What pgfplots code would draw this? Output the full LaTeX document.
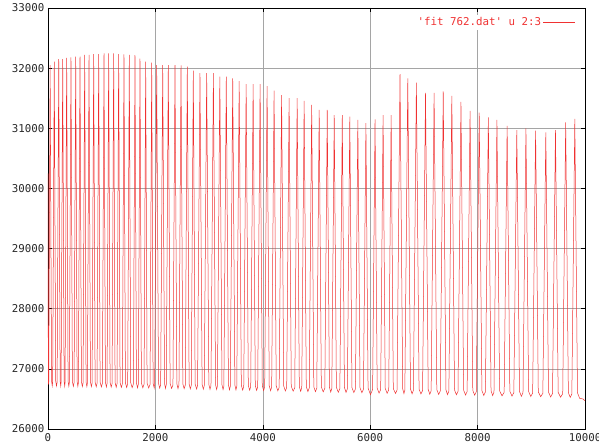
\documentclass[border=0pt]{standalone}
\usepackage{fontspec}
\setmonofont{DejaVu Sans Mono}
\usepackage{pgfplots}
\pgfplotsset{compat=1.18}
\definecolor{gpred}{RGB}{240,50,50}
\definecolor{gpgrid}{RGB}{165,165,165}
\definecolor{gptext}{RGB}{40,40,40}
\begin{document}
\begin{tikzpicture}
\useasboundingbox (-48pt,-17pt) rectangle (551pt,429pt);
\begin{axis}[
  scale only axis, width=537pt, height=421pt,
  xmin=0, xmax=10000, ymin=26000, ymax=33000,
  xtick={0,2000,...,10000}, ytick={26000,27000,...,33000},
  scaled ticks=false,
  /pgf/number format/1000 sep={},
  /pgf/number format/assume math mode=true,
  ticklabel style={font=\fontsize{10.8}{12}\ttfamily, text=gptext},
  grid=major, major grid style={gpgrid, line width=0.5pt},
  tick align=inside, major tick length=4pt,
  axis line style={line width=0.6pt, black},
  tick style={black, line width=0.5pt},
  legend style={at={(0.985,0.985)}, anchor=north east, draw=none, fill=white,
    font=\fontsize{10.8}{12}\ttfamily, text=gpred, inner sep=1pt},
  legend plot pos=right,
  legend image code/.code={\draw[gpred, line width=0.6pt] (4pt,0pt) -- (36pt,0pt);},
  xticklabel style={yshift=-1pt},
]
\addplot[gpred, line width=0.5pt] coordinates {
(0,30250)(6,26740)
(14,26780)(40,32050)(66,26800)(79,26718)
(87,26778)(117,32110)(143,26798)(158,26716)
(170,26776)(200,32150)(226,26796)(237,26715)
(244,26775)(274,32150)(300,26795)(311,26713)
(318,26773)(348,32170)(374,26793)(388,26712)
(398,26771)(428,32180)(454,26791)(472,26710)
(486,26770)(516,32190)(542,26790)(556,26709)
(566,26768)(596,32190)(622,26788)(640,26707)
(653,26766)(683,32220)(709,26786)(724,26706)
(734,26765)(764,32220)(790,26785)(808,26704)
(821,26763)(851,32235)(877,26783)(898,26702)
(914,26761)(944,32235)(970,26781)(994,26700)
(1013,26759)(1043,32245)(1069,26779)(1087,26698)
(1100,26757)(1130,32245)(1156,26777)(1177,26696)
(1193,26755)(1223,32245)(1249,26775)(1270,26694)
(1286,26754)(1316,32235)(1342,26774)(1366,26692)
(1385,26752)(1415,32230)(1441,26772)(1465,26690)
(1484,26750)(1514,32220)(1540,26770)(1567,26688)
(1590,26748)(1620,32215)(1646,26768)(1667,26686)
(1683,26746)(1713,32160)(1739,26766)(1766,26684)
(1789,26744)(1819,32110)(1845,26764)(1875,26682)
(1901,26741)(1931,32090)(1957,26761)(1978,26680)
(1986,26740)(2024,32050)(2058,26760)(2080,26678)
(2098,26737)(2136,32050)(2170,26757)(2188,26676)
(2202,26735)(2240,32050)(2274,26755)(2302,26674)
(2327,26733)(2365,32050)(2399,26753)(2421,26672)
(2439,26730)(2477,32045)(2511,26750)(2535,26670)
(2556,26728)(2594,32025)(2628,26748)(2650,26668)
(2668,26726)(2706,31960)(2740,26746)(2768,26665)
(2785,26723)(2830,31915)(2870,26743)(2892,26662)
(2910,26721)(2955,31915)(2995,26741)(3017,26660)
(3035,26718)(3080,31915)(3120,26738)(3140,26657)
(3155,26716)(3200,31860)(3240,26736)(3260,26655)
(3275,26714)(3320,31860)(3360,26734)(3380,26652)
(3395,26711)(3440,31830)(3480,26731)(3500,26650)
(3515,26709)(3560,31785)(3600,26729)(3625,26647)
(3645,26706)(3690,31735)(3730,26726)(3755,26645)
(3775,26704)(3820,31735)(3860,26724)(3885,26642)
(3905,26701)(3950,31735)(3990,26721)(4015,26640)
(4035,26698)(4080,31700)(4120,26718)(4145,26637)
(4165,26696)(4210,31625)(4250,26716)(4280,26634)
(4305,26693)(4350,31553)(4390,26713)(4420,26632)
(4445,26690)(4490,31500)(4530,26710)(4565,26629)
(4595,26687)(4640,31500)(4680,26707)(4705,26626)
(4725,26685)(4770,31455)(4810,26705)(4840,26623)
(4865,26682)(4910,31390)(4950,26702)(4980,26620)
(5005,26679)(5050,31305)(5090,26699)(5125,26618)
(5155,26676)(5200,31305)(5240,26696)(5265,26615)
(5285,26673)(5330,31220)(5370,26693)(5405,26612)
(5435,26670)(5480,31220)(5520,26690)(5550,26609)
(5575,26668)(5620,31195)(5660,26688)(5695,26606)
(5725,26665)(5770,31140)(5810,26685)(5845,26603)
(5875,26662)(5920,31085)(5960,26682)(6005,26570)
(6045,26658)(6090,31150)(6130,26678)(6165,26597)
(6195,26655)(6240,31220)(6280,26675)(6315,26594)
(6345,26652)(6390,31220)(6430,26672)(6472,26591)
(6500,26649)(6555,31900)(6605,26669)(6628,26588)
(6645,26646)(6700,31830)(6750,26666)(6780,26585)
(6805,26643)(6860,31760)(6910,26663)(6945,26582)
(6975,26639)(7030,31590)(7080,26659)(7110,26578)
(7135,26636)(7190,31590)(7240,26656)(7275,26575)
(7305,26633)(7360,31615)(7410,26653)(7440,26572)
(7465,26630)(7520,31540)(7570,26650)(7605,26569)
(7635,26626)(7690,31440)(7740,26646)(7775,26565)
(7805,26623)(7860,31290)(7910,26643)(7945,26562)
(7975,26619)(8030,31260)(8080,26639)(8115,26558)
(8145,26616)(8200,31180)(8250,26636)(8280,26555)
(8305,26613)(8360,31140)(8410,26633)(8455,26552)
(8495,26609)(8550,31040)(8600,26629)(8640,26548)
(8675,26605)(8730,30970)(8780,26625)(8815,26544)
(8845,26602)(8900,31000)(8950,26622)(8990,26541)
(9025,26598)(9080,30960)(9130,26618)(9175,26537)
(9215,26594)(9270,30930)(9320,26614)(9360,26533)
(9395,26590)(9450,30970)(9500,26610)(9545,26529)
(9585,26586)(9640,31100)(9690,26606)(9725,26525)
(9755,26582)(9810,31155)(9860,26602)(9900,26510)
(9960,26500)(10000,26470)
};
\addlegendentry{'fit 762.dat' u 2:3}
\end{axis}
\end{tikzpicture}
\end{document}
